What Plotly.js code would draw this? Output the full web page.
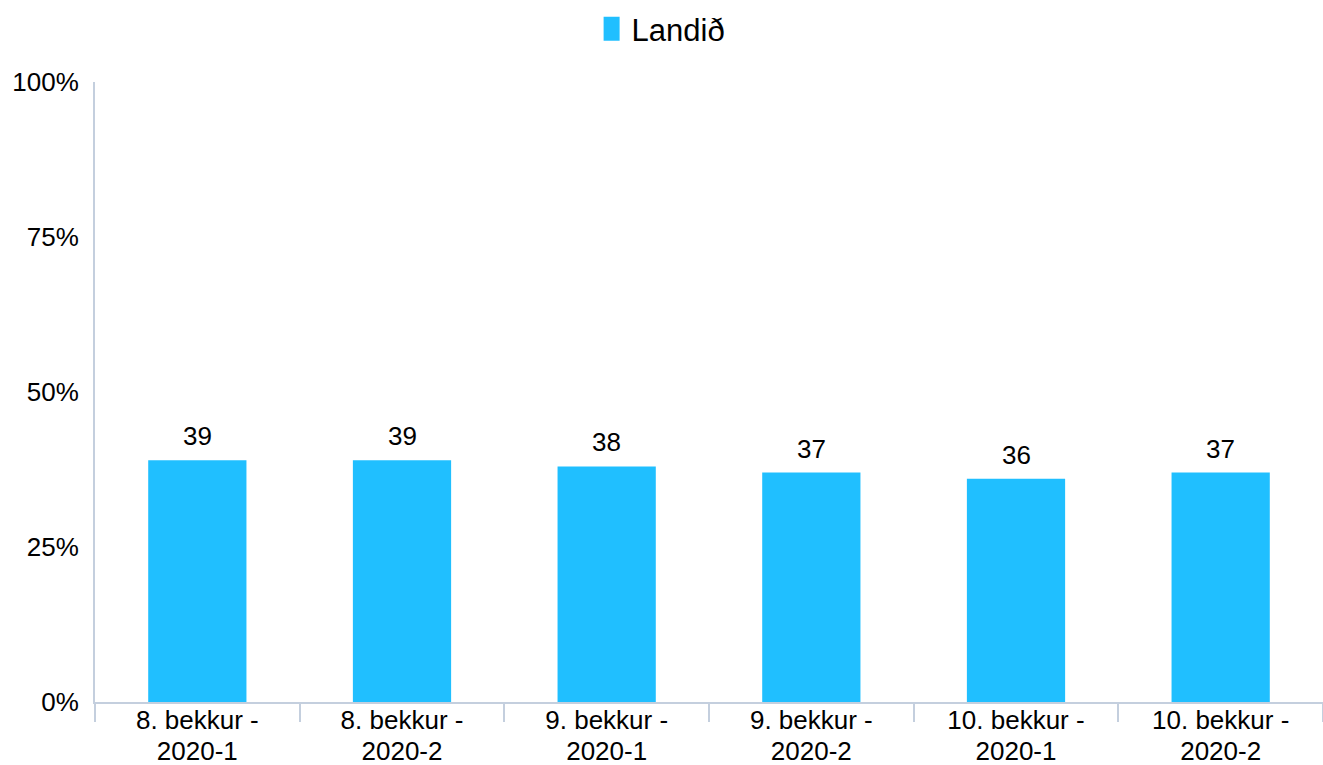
<!DOCTYPE html>
<html>
<head>
<meta charset="utf-8">
<script src="https://cdn.plot.ly/plotly-3.0.1.min.js"></script>
<style>html,body{margin:0;padding:0;background:#fff;overflow:hidden}#chart{width:1323px;height:765px}</style>
</head>
<body>
<div id="chart"></div>
<script>
const categories = ["8. bekkur -<br>2020-1", "8. bekkur -<br>2020-2", "9. bekkur -<br>2020-1", "9. bekkur -<br>2020-2", "10. bekkur -<br>2020-1", "10. bekkur -<br>2020-2"];
const seriesName = "Landið";
const values = [39, 39, 38, 37, 36, 37];
const yTickVals = [0, 25, 50, 75, 100];
const yTickText = ["0%", "25%", "50%", "75%", "100%"];

const FONT = "Liberation Sans, Arial, sans-serif";
const AXIS_COLOR = "#C4CFDE";

const trace = {
  type: "bar",
  x: categories,
  y: values,
  name: seriesName,
  marker: {color: "#20BFFF"},
  hoverinfo: "skip"
};

const annotations = categories.map((c, i) => ({
  x: c, y: values[i], xref: "x", yref: "y",
  text: String(values[i]), showarrow: false,
  xanchor: "center", yanchor: "bottom", yshift: 7,
  font: {family: FONT, size: 26, color: "#000"}
}));

const layout = {
  width: 1323, height: 765,
  margin: {l: 95, r: 0, t: 82, b: 63, autoexpand: false},
  paper_bgcolor: "#fff", plot_bgcolor: "#fff",
  font: {family: FONT, color: "#000"},
  bargap: 0.52,
  showlegend: true,
  legend: {orientation: "h", x: 0.461, xanchor: "center", y: 1.0855, yanchor: "middle",
           font: {family: FONT, size: 31, color: "#000"}, itemclick: false},
  annotations: annotations,
  xaxis: {
    type: "category",
    showline: true, linecolor: AXIS_COLOR, linewidth: 2,
    ticks: "outside", tickson: "boundaries", ticklen: 18, tickcolor: AXIS_COLOR, tickwidth: 2,
    ticklabelstandoff: -6,
    tickfont: {family: FONT, size: 26, color: "#000"},
    showgrid: false, zeroline: false, fixedrange: true
  },
  yaxis: {
    range: [0, 100],
    tickvals: yTickVals, ticktext: yTickText,
    showline: true, linecolor: AXIS_COLOR, linewidth: 2,
    ticks: "", ticklabelstandoff: 9,
    tickfont: {family: FONT, size: 26, color: "#000"},
    showgrid: false, zeroline: false, fixedrange: true
  }
};

Plotly.newPlot("chart", [trace], layout, {staticPlot: true, displayModeBar: false}).then(() => {
  document.querySelectorAll(".legendpoints path").forEach(p => p.setAttribute("d", "M8,12H-8V-12H8Z"));
  document.querySelectorAll(".xtick text tspan.line").forEach((t, i) => {
    if (t.getAttribute("dy") && t.getAttribute("dy") !== "0em" && t.previousSibling) t.setAttribute("dy", "1.18em");
  });
});
</script>
</body>
</html>
